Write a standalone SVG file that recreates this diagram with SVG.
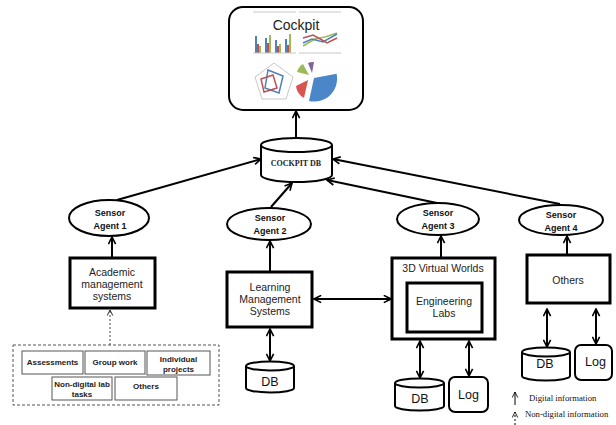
<svg xmlns="http://www.w3.org/2000/svg" width="616" height="425" viewBox="0 0 616 425">
  <style>
    .box { fill: #fff; stroke: #000; stroke-width: 3; }
    .thin { fill: #fff; stroke: #000; stroke-width: 2; }
    .ell { fill: #fff; stroke: #000; stroke-width: 2; }
    .cyl { fill: #fff; stroke: #000; stroke-width: 2; }
    .lbl { font-family: "Liberation Sans", Arial, sans-serif; font-size: 10.5px; fill: #222; text-anchor: middle; }
    .sen { font-family: "Liberation Sans", Arial, sans-serif; font-size: 9px; font-weight: bold; fill: #111; text-anchor: middle; }
    .db { font-family: "Liberation Sans", Arial, sans-serif; font-size: 12.5px; fill: #111; text-anchor: middle; }
    .act { font-family: "Liberation Sans", Arial, sans-serif; font-size: 8px; font-weight: bold; fill: #222; text-anchor: middle; }
    .act-box { fill: #fff; stroke: #555; stroke-width: 1; }
    .leg { font-family: "Liberation Serif", "Times New Roman", serif; font-size: 8.7px; fill: #111; }
    .con { fill: none; stroke: #000; stroke-width: 2; }
    .grid { stroke: #c8c8c8; stroke-width: 1; fill: none; }
  </style>
  <defs>
    <marker id="arr" viewBox="0 0 10 10" refX="9" refY="5" markerWidth="9" markerHeight="9" markerUnits="userSpaceOnUse" orient="auto-start-reverse">
      <path d="M1,1 L9,5 L1,9" fill="none" stroke="#000" stroke-width="1.8"/>
    </marker>
    <marker id="arrThin" viewBox="0 0 10 10" refX="9" refY="5" markerWidth="7" markerHeight="7" markerUnits="userSpaceOnUse" orient="auto-start-reverse">
      <path d="M1,1 L9,5 L1,9" fill="none" stroke="#000" stroke-width="1.2"/>
    </marker>
  </defs>

  <rect width="616" height="425" fill="#fff"/>

  <!-- Cockpit dashboard -->
  <g id="cockpit">
    <rect x="229" y="7" width="134" height="103" rx="14" class="thin"/>
    <line x1="253" y1="12" x2="296" y2="12" class="grid"/>
    <line x1="299" y1="12" x2="341" y2="12" class="grid"/>
    <text x="296" y="30" font-family="'Liberation Sans', Arial, sans-serif" font-size="14" fill="#222" text-anchor="middle">Cockpit</text>
    <!-- bar chart -->
    <g>
      <rect x="255" y="36" width="2" height="17" fill="#4f81bd"/>
      <rect x="257" y="44" width="2" height="9" fill="#c0504d"/>
      <rect x="259" y="46" width="2" height="7" fill="#9bbb59"/>
      <rect x="265" y="38" width="2" height="15" fill="#4f81bd"/>
      <rect x="267" y="43" width="2" height="10" fill="#c0504d"/>
      <rect x="269" y="35" width="2" height="18" fill="#9bbb59"/>
      <rect x="275" y="40" width="2" height="13" fill="#4f81bd"/>
      <rect x="277" y="46" width="2" height="7" fill="#c0504d"/>
      <rect x="279" y="44" width="2" height="9" fill="#9bbb59"/>
      <rect x="285" y="39" width="2" height="14" fill="#4f81bd"/>
      <rect x="287" y="45" width="2" height="8" fill="#c0504d"/>
      <rect x="289" y="34" width="2" height="19" fill="#9bbb59"/>
    </g>
    <line x1="253" y1="53" x2="296" y2="53" class="grid"/>
    <line x1="299" y1="53" x2="341" y2="53" class="grid"/>
    <!-- line chart -->
    <polyline points="303,46 315,39 325,37 337,33" fill="none" stroke="#9bbb59" stroke-width="1.5"/>
    <polyline points="303,43 312,39 323,42 337,34" fill="none" stroke="#4f81bd" stroke-width="1.5"/>
    <polyline points="303,38 313,35 322,40 327,43 337,38" fill="none" stroke="#c0504d" stroke-width="1.5"/>
    <!-- radar chart -->
    <polygon points="274,63 293,77 286,99 262,99 255,77" fill="#fff" stroke="#c8c8c8" stroke-width="1"/>
    <polygon points="268,70 283,76 279,93 265,88" fill="none" stroke="#4f81bd" stroke-width="1.5"/>
    <polygon points="261,79 273,75 277,88 264,92" fill="none" stroke="#c0504d" stroke-width="1.5"/>
    <!-- exploded pie -->
    <path d="M314,78 L336.6,73.8 A23,23 0 0,1 309,101 Z" fill="#4a86c8"/>
    <path d="M308,80 L296,86 A16,16 0 0,0 304,98 Z" fill="#d9534f"/>
    <path d="M309,75 L297,72 A14,14 0 0,1 303,64 Z" fill="#9bbb59"/>
    <path d="M312,73 L308,63 A12,12 0 0,1 314,62 Z" fill="#8064a2"/>
  </g>

  <!-- Cockpit database -->
  <g id="cockpit-db">
    <path d="M261,145 L261,175 A35.5,7 0 0,0 332,175 L332,145" class="cyl"/>
    <ellipse cx="296.5" cy="145" rx="35.5" ry="7" class="cyl"/>
    <text x="296" y="166" font-family="'Liberation Serif', 'Times New Roman', serif" font-size="8" font-weight="bold" fill="#222" text-anchor="middle">COCKPIT  DB</text>
  </g>

  <!-- Sensor agents -->
  <g id="sensor1">
    <ellipse cx="109" cy="218" rx="40" ry="18" class="ell"/>
    <text x="110" y="216" class="sen">Sensor</text>
    <text x="110" y="229" class="sen">Agent 1</text>
  </g>
  <g id="sensor2">
    <ellipse cx="269" cy="224" rx="42" ry="16" class="ell"/>
    <text x="270" y="221" class="sen">Sensor</text>
    <text x="270" y="234" class="sen">Agent 2</text>
  </g>
  <g id="sensor3">
    <ellipse cx="438" cy="219" rx="41" ry="16" class="ell"/>
    <text x="438" y="216" class="sen">Sensor</text>
    <text x="438" y="229" class="sen">Agent 3</text>
  </g>
  <g id="sensor4">
    <ellipse cx="561" cy="220" rx="42" ry="15" class="ell"/>
    <text x="561" y="218" class="sen">Sensor</text>
    <text x="561" y="231" class="sen">Agent 4</text>
  </g>

  <!-- Source systems -->
  <g id="academic">
    <rect x="70" y="258" width="85" height="50" class="box"/>
    <text x="112" y="276" class="lbl">Academic</text>
    <text x="112" y="288" class="lbl">management</text>
    <text x="112" y="300" class="lbl">systems</text>
  </g>
  <g id="lms">
    <rect x="227" y="272" width="85" height="55" class="box"/>
    <text x="270" y="291" class="lbl">Learning</text>
    <text x="270" y="303" class="lbl">Management</text>
    <text x="270" y="315" class="lbl">Systems</text>
  </g>
  <g id="virtual-worlds">
    <rect x="392" y="258" width="103" height="81" class="box"/>
    <text x="443" y="272" class="lbl">3D Virtual Worlds</text>
    <rect x="407" y="283" width="75" height="49" class="box"/>
    <text x="444" y="305" class="lbl">Engineering</text>
    <text x="444" y="317" class="lbl">Labs</text>
  </g>
  <g id="others">
    <rect x="527" y="255" width="83" height="48" class="box" stroke-width="2.5"/>
    <text x="568" y="284" class="lbl">Others</text>
  </g>

  <!-- Non-digital activities -->
  <g id="activities">
    <rect x="13" y="345" width="206" height="60" fill="none" stroke="#555" stroke-width="1" stroke-dasharray="3,2"/>
    <rect x="22" y="351" width="61" height="23" class="act-box"/>
    <text x="52.5" y="365" class="act">Assessments</text>
    <rect x="85" y="351" width="60" height="23" class="act-box"/>
    <text x="115" y="365" class="act">Group work</text>
    <rect x="147" y="351" width="63" height="24" class="act-box"/>
    <text x="178.5" y="362" class="act">Individual</text>
    <text x="178.5" y="372" class="act">projects</text>
    <rect x="52" y="377" width="60" height="23" class="act-box"/>
    <text x="82" y="387" class="act">Non-digital lab</text>
    <text x="82" y="397" class="act">tasks</text>
    <rect x="115" y="377" width="62" height="23" class="act-box"/>
    <text x="146" y="389" class="act">Others</text>
  </g>

  <!-- Storage -->
  <g id="db-lms">
    <path d="M246,366 L246,388 A24,4.5 0 0,0 294,388 L294,366" class="cyl"/>
    <ellipse cx="270" cy="366" rx="24" ry="4.5" class="cyl"/>
    <text x="270" y="386" class="db">DB</text>
  </g>
  <g id="db-vw">
    <path d="M395,383 L395,406 A24.5,4.5 0 0,0 444,406 L444,383" class="cyl"/>
    <ellipse cx="419.5" cy="383" rx="24.5" ry="4.5" class="cyl"/>
    <text x="420" y="403" class="db">DB</text>
  </g>
  <g id="log-vw">
    <rect x="449" y="377" width="39" height="35" rx="6" class="thin"/>
    <text x="468.5" y="399" class="db">Log</text>
  </g>
  <g id="db-others">
    <path d="M522,352 L522,376 A24,4.5 0 0,0 570,376 L570,352" class="cyl"/>
    <ellipse cx="546" cy="352" rx="24" ry="4.5" class="cyl"/>
    <text x="545" y="368" class="db">DB</text>
  </g>
  <g id="log-others">
    <rect x="575" y="345" width="37" height="35" rx="6" class="thin"/>
    <text x="595.5" y="366" class="db">Log</text>
  </g>

  <!-- Legend -->
  <g id="legend">
    <line x1="515" y1="405" x2="515" y2="392" stroke="#000" stroke-width="1" marker-end="url(#arrThin)"/>
    <text x="529" y="401" class="leg">Digital information</text>
    <line x1="515" y1="425" x2="515" y2="412" stroke="#000" stroke-width="1" stroke-dasharray="2,2" marker-end="url(#arrThin)"/>
    <text x="525" y="417" class="leg">Non-digital information</text>
  </g>

  <!-- Connectors -->
  <g id="connectors">
    <line x1="296" y1="137" x2="296" y2="111" class="con" marker-end="url(#arr)"/>
    <line x1="117" y1="200" x2="261" y2="159" class="con" marker-end="url(#arr)"/>
    <line x1="271" y1="207" x2="292" y2="183" class="con" marker-end="url(#arr)"/>
    <line x1="437" y1="203" x2="327" y2="180" class="con" marker-end="url(#arr)"/>
    <line x1="560" y1="204" x2="333" y2="159" class="con" marker-end="url(#arr)"/>
    <line x1="112" y1="257" x2="112" y2="237" class="con" marker-end="url(#arr)"/>
    <line x1="110" y1="345" x2="110" y2="310" fill="none" stroke="#444" stroke-width="1" stroke-dasharray="2,2" marker-end="url(#arrThin)"/>
    <line x1="270" y1="271" x2="270" y2="241" class="con" marker-end="url(#arr)"/>
    <line x1="441" y1="257" x2="441" y2="236" class="con" marker-end="url(#arr)"/>
    <line x1="567" y1="254" x2="567" y2="236" class="con" marker-end="url(#arr)"/>
    <line x1="314" y1="299" x2="391" y2="299" class="con" marker-start="url(#arr)" marker-end="url(#arr)"/>
    <line x1="270" y1="329" x2="270" y2="361" class="con" marker-start="url(#arr)" marker-end="url(#arr)"/>
    <line x1="420" y1="341" x2="420" y2="378" class="con" marker-start="url(#arr)" marker-end="url(#arr)"/>
    <line x1="469" y1="341" x2="469" y2="376" class="con" marker-start="url(#arr)" marker-end="url(#arr)"/>
    <line x1="547" y1="309" x2="547" y2="347" class="con" marker-start="url(#arr)" marker-end="url(#arr)"/>
    <line x1="596" y1="309" x2="596" y2="344" class="con" marker-start="url(#arr)" marker-end="url(#arr)"/>
  </g>
</svg>
